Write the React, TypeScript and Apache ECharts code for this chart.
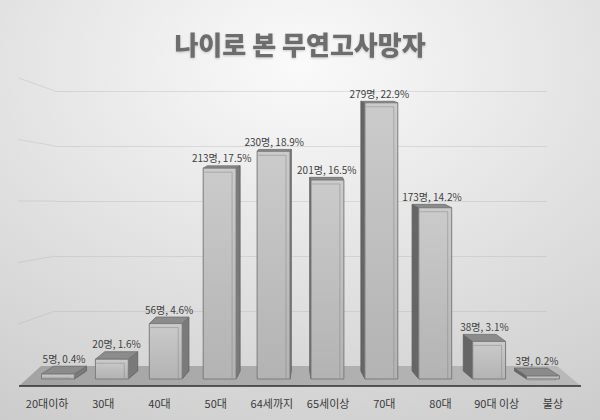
import { useRef, useEffect } from 'react'
import * as echarts from 'echarts'

const categories = ['20대이하', '30대', '40대', '50대', '64세까지', '65세이상', '70대', '80대', '90대 이상', '불상']
const counts = [5, 20, 56, 213, 230, 201, 279, 173, 38, 3]
const percents = [0.4, 1.6, 4.6, 17.5, 18.9, 16.5, 22.9, 14.2, 3.1, 0.2]
const wallTicks = [50, 100, 150, 200, 250]

const FONT = '"Noto Sans CJK KR", "Noto Sans", sans-serif'
const GRID_LINE = 'rgba(170,170,170,0.3)'

// 3D-looking bar: front face, a side face leaning toward the middle, and a top face
function renderBar(params: any, api: any) {
  const i = api.value(0)
  const v = api.value(1)
  const cs = params.coordSys
  const top = api.coord([i, v])
  const base = api.coord([i, 0])
  const band = api.size([1, 0])[0]
  const fw = band * 0.61
  const cx = top[0]
  const midX = cs.x + cs.width / 2
  const dx = (midX - cx) * 0.05
  const k = 0.027
  const dyTop = -Math.max(1.5, (top[1] - cs.y) * k)
  const dyBase = -(base[1] - cs.y) * k
  const x0 = cx - fw / 2
  const x1 = cx + fw / 2
  const y0 = top[1]
  const y1 = base[1]
  const sx = dx >= 0 ? x1 : x0

  return {
    type: 'group',
    children: [
      {
        type: 'polygon',
        shape: { points: [[sx, y0], [sx + dx, y0 + dyTop], [sx + dx, y1 + dyBase], [sx, y1]] },
        style: { fill: dx >= 0 ? '#7a7a7a' : '#666666', stroke: '#5e5e5e', lineWidth: 0.8 }
      },
      {
        type: 'polygon',
        shape: { points: [[x0, y0], [x1, y0], [x1 + dx, y0 + dyTop], [x0 + dx, y0 + dyTop]] },
        style: { fill: '#8b8b8b', stroke: '#6e6e6e', lineWidth: 0.8 }
      },
      {
        type: 'rect',
        shape: { x: x0, y: y0, width: fw, height: y1 - y0 },
        style: {
          fill: new echarts.graphic.LinearGradient(0, 0, 0, 1, [
            { offset: 0, color: '#cbcbcb' },
            { offset: 1, color: '#b3b3b3' }
          ]),
          stroke: '#7c7c7c',
          lineWidth: 1
        }
      },
      {
        type: 'polyline',
        shape: { points: [[x0 + 1, y0 + 4], [x1 - 4, y0 + 4], [x1 - 4, y1 - 1]] },
        style: { fill: null, stroke: 'rgba(130,130,130,0.6)', lineWidth: 0.8 }
      },
      {
        type: 'text',
        x: cx + dx / 2,
        y: y0 + dyTop - 3,
        style: {
          text: `${counts[i]}명, ${percents[i]}%`,
          align: 'center',
          verticalAlign: 'bottom',
          fill: '#3f3f3f',
          fontSize: 10,
          fontFamily: FONT
        }
      }
    ]
  }
}

// floor under the bars, drawn from the front grid's extent
function renderFloor(params: any, api: any) {
  const cs = params.coordSys
  const left = api.coord([0, 0])[0] - api.size([1, 0])[0] / 2
  const right = left + cs.width
  const front = cs.y + cs.height
  const back = front - 20
  return {
    type: 'group',
    children: [
      {
        type: 'polygon',
        shape: { points: [[left, front], [left + 22, back], [right - 24, back], [right, front]] },
        style: {
          fill: new echarts.graphic.LinearGradient(0, 0, 1, 0, [
            { offset: 0, color: '#a3a3a3' },
            { offset: 1, color: '#b9b9b9' }
          ])
        }
      },
      {
        type: 'line',
        shape: { x1: left, y1: front, x2: right, y2: front },
        style: { stroke: '#2e2e2e', lineWidth: 1.5 }
      }
    ]
  }
}

// short slanted ends of the back-wall gridlines (side wall)
function renderWall(params: any, api: any) {
  const cs = params.coordSys
  const p = api.coord([0, api.value(0)])
  const midY = cs.y + cs.height * 0.5
  return {
    type: 'line',
    shape: { x1: p[0], y1: p[1], x2: p[0] - 37, y2: p[1] + (p[1] - midY) * 0.12 },
    style: { stroke: GRID_LINE, lineWidth: 1 }
  }
}

export default function App() {
  const containerRef = useRef<HTMLDivElement>(null)

  useEffect(() => {
    const el = containerRef.current
    if (!el) return
    const chart = echarts.init(el, null, { renderer: 'svg' })

    const option: any = {
      animation: false,
      backgroundColor: new echarts.graphic.RadialGradient(0.5, 0.15, 1.0, [
        { offset: 0, color: '#fafafa' },
        { offset: 1, color: '#cbcbcb' }
      ]),
      title: {
        text: '나이로 본 무연고사망자',
        left: 'center',
        top: 25,
        textStyle: {
          color: '#6d6d6d',
          fontSize: 26,
          fontWeight: 900,
          fontFamily: FONT,
          textShadowColor: 'rgba(0,0,0,0.2)',
          textShadowBlur: 2,
          textShadowOffsetY: 1
        }
      },
      grid: [
        { left: 19, right: 19, top: 60, bottom: 34 },
        { left: 31, right: 30, top: 82, bottom: 41 },
        { left: 55, right: 53, top: 36, bottom: 54 }
      ],
      xAxis: [
        {
          gridIndex: 0,
          type: 'category',
          data: categories,
          axisLine: { show: false },
          axisTick: { show: false },
          axisLabel: { color: '#3a3a3a', fontSize: 11, fontFamily: FONT, margin: 11, interval: 0 }
        },
        { gridIndex: 1, type: 'category', data: categories, show: false },
        { gridIndex: 2, type: 'value', min: 0, max: 1, show: false }
      ],
      yAxis: [
        { gridIndex: 0, type: 'value', min: 0, max: 300, show: false },
        { gridIndex: 1, type: 'value', min: 0, max: 300, show: false },
        {
          gridIndex: 2,
          type: 'value',
          min: 0,
          max: 300,
          interval: 50,
          axisLine: { show: false },
          axisTick: { show: false },
          axisLabel: { show: false },
          splitLine: {
            show: true,
            showMinLine: false,
            showMaxLine: false,
            lineStyle: { color: GRID_LINE, width: 1 }
          }
        }
      ],
      series: [
        {
          type: 'custom',
          xAxisIndex: 2,
          yAxisIndex: 2,
          data: wallTicks.map(t => [t]),
          renderItem: renderWall,
          silent: true,
          z: 1
        },
        {
          type: 'custom',
          xAxisIndex: 0,
          yAxisIndex: 0,
          data: [[0, 0]],
          renderItem: renderFloor,
          silent: true,
          z: 2
        },
        {
          type: 'custom',
          xAxisIndex: 1,
          yAxisIndex: 1,
          data: counts.map((c, i) => [i, c]),
          renderItem: renderBar,
          z: 3
        }
      ]
    }
    chart.setOption(option)

    return () => {
      chart.dispose()
    }
  }, [])

  return (
    <div
      ref={containerRef}
      style={{ position: 'absolute', left: 0, top: 0, width: 600, height: 420 }}
    />
  )
}
